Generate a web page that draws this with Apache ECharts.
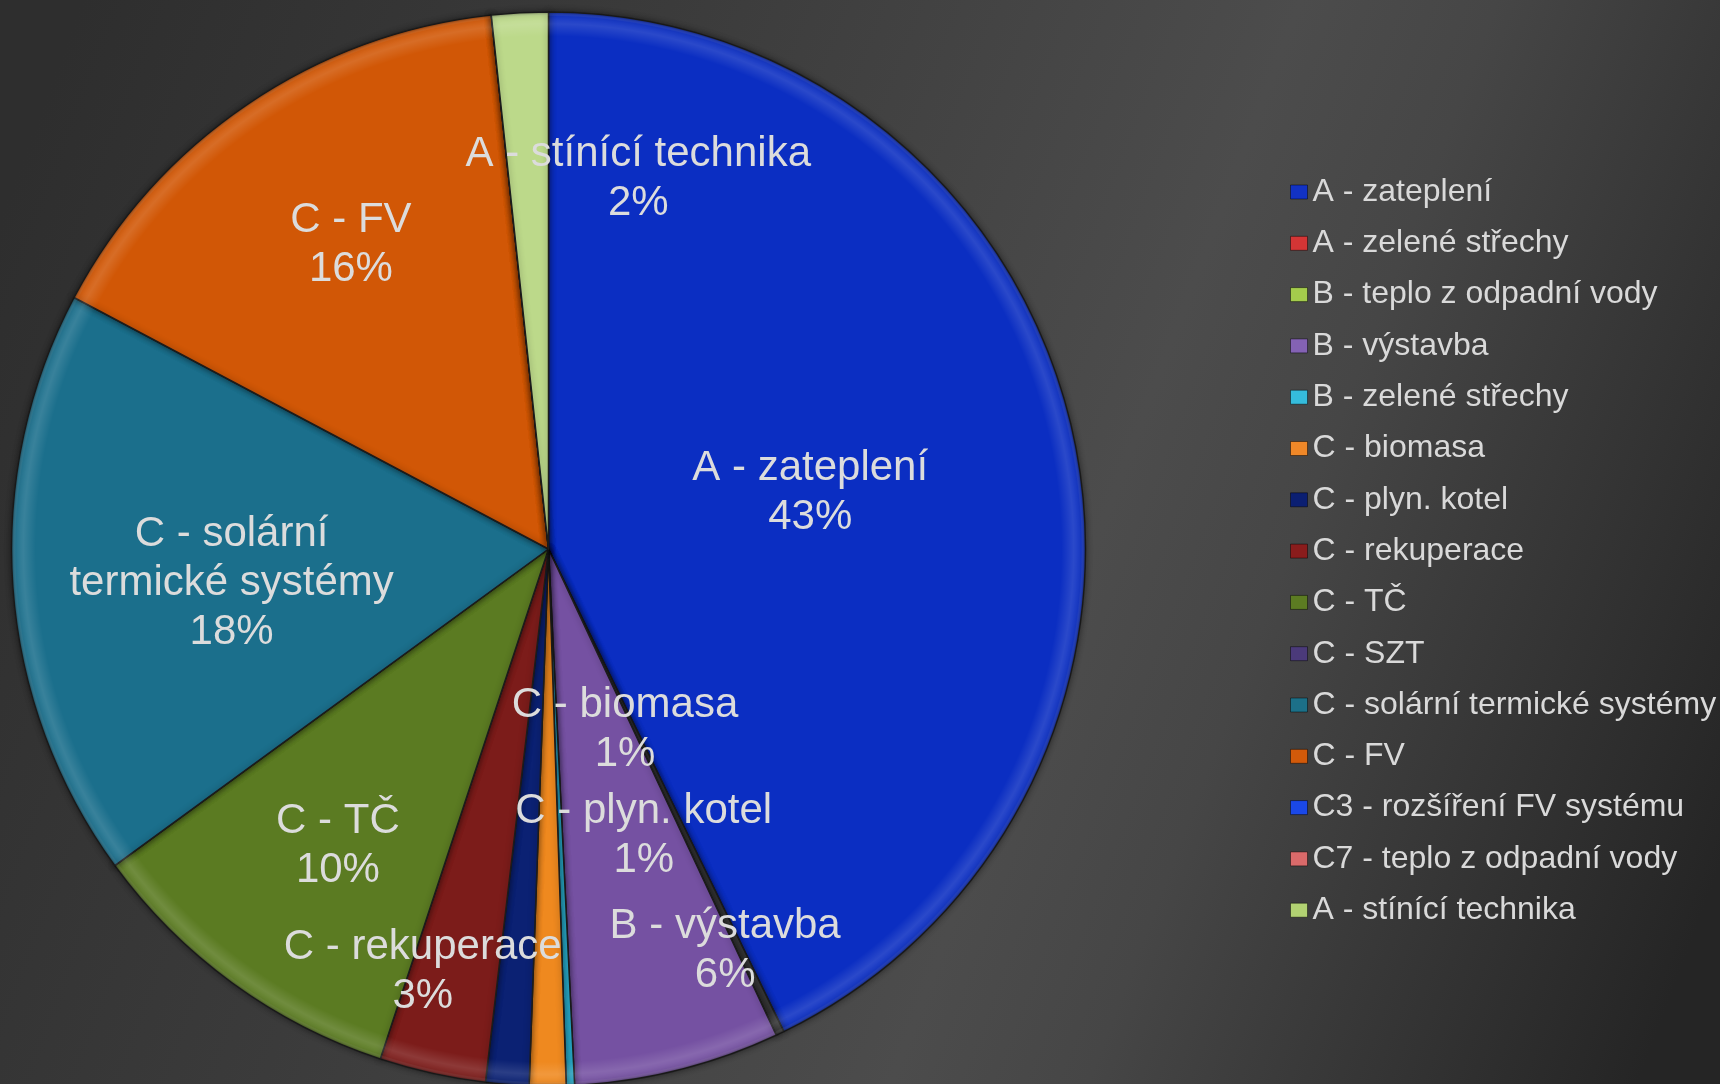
<!DOCTYPE html>
<html>
<head>
<meta charset="utf-8">
<script src="https://cdn.jsdelivr.net/npm/echarts@6/dist/echarts.min.js"></script>
<style>
html,body{margin:0;padding:0;background:#3a3a3a;overflow:hidden;}
#c{width:1720px;height:1084px;}
</style>
</head>
<body>
<div id="c"></div>
<script>
// ---- data ----
const categories = [
  'A - zateplení',
  'A - zelené střechy',
  'B - teplo z odpadní vody',
  'B - výstavba',
  'B - zelené střechy',
  'C - biomasa',
  'C - plyn. kotel',
  'C - rekuperace',
  'C - TČ',
  'C - SZT',
  'C - solární termické systémy',
  'C - FV',
  'C3 - rozšíření FV systému',
  'C7 - teplo z odpadní vody',
  'A - stínící technika'
];
const values = [42.8, 0.25, 0, 6.2, 0.25, 1.1, 1.3, 3.2, 9.9, 0, 17.8, 15.55, 0, 0, 1.7];

// label text line breaks (as in the original)
const labelBreaks = {
  'C - solární termické systémy': 'C - solární\ntermické systémy'
};

// ---- styles ----
const sliceColors = [
  '#0b2ec2', '#3a3a3a', '#a4cc4c', '#7551a2', '#2ab2d2', '#ef891f', '#0b2173',
  '#7c1c1a', '#5b7b22', '#4a3878', '#1b6f8c', '#d15706', '#1a48e8', '#d86868', '#bcd98a'
];
const legendColors = [
  '#1232c4', '#d43535', '#a4cc4c', '#8462b4', '#35bcdc', '#f08828', '#0b1f72',
  '#8a1c1c', '#5c7c22', '#4b3a7a', '#1c7088', '#d25a0a', '#1a48e8', '#da6a6a', '#b2d272'
];
// label placement (angle clockwise from 12 o'clock in degrees, fraction of radius)
const labelPlacement = {
  'A - zateplení': [77.1, 0.50],
  'B - výstavba': [156.1, 0.812],
  'C - biomasa': [156.6, 0.359],
  'C - plyn. kotel': [161.4, 0.556],
  'C - rekuperace': [196.7, 0.815],
  'C - TČ': [215.7, 0.672],
  'C - solární termické systémy': [264.4, 0.593],
  'C - FV': [327.3, 0.681],
  'A - stínící technika': [13.5, 0.716]
};

const CX = 548.5, CY = 549, R = 537;
const LABEL_DY = 3.5;
const total = values.reduce((a, b) => a + b, 0);

const chart = echarts.init(document.getElementById('c'), null, {renderer: 'canvas'});

const seriesData = categories.map((name, i) => {
  const item = {
    name: name,
    value: values[i],
    itemStyle: {color: sliceColors[i]}
  };
  if (!labelPlacement[name]) item.label = {show: false};
  return item;
});

const bevelData = categories.map((name, i) => ({name: name, value: values[i]}));

const option = {
  backgroundColor: {
    type: 'linear', x: 0, y: 0.2, x2: 1, y2: 0.8,
    colorStops: [
      {offset: 0, color: '#2e2e2e'},
      {offset: 0.3, color: '#3b3b3b'},
      {offset: 0.62, color: '#4c4c4c'},
      {offset: 0.72, color: '#464646'},
      {offset: 1, color: '#252525'}
    ]
  },
  animation: false,
  legend: {
    orient: 'vertical',
    left: 1285,
    top: 169,
    itemWidth: 17,
    itemHeight: 14,
    itemGap: 15.3,
    itemTextGap: 7,
    icon: 'rect',
    selectedMode: false,
    textStyle: {
      color: '#d9d9d9',
      fontSize: 32,
      lineHeight: 36,
      fontFamily: 'Liberation Sans, Arial, sans-serif'
    },
    data: categories.map((name, i) => ({
      name: name,
      itemStyle: {color: legendColors[i], borderColor: 'rgba(0,0,0,0.45)', borderWidth: 1}
    }))
  },
  series: [{
    type: 'pie',
    center: [CX, CY],
    radius: [0, R],
    startAngle: 90,
    clockwise: true,
    avoidLabelOverlap: false,
    stillShowZeroSum: true,
    minShowLabelAngle: 0,
    z: 2,
    itemStyle: {
      borderColor: '#1c1c1c',
      borderWidth: 1.5,
      shadowBlur: 6,
      shadowColor: 'rgba(0,0,0,0.45)'
    },
    label: {show: false},
    labelLine: {show: false},
    emphasis: {disabled: true},
    data: seriesData
  }, {
    // bevel highlight along the rim + labels on top
    type: 'pie',
    center: [CX, CY],
    radius: [0, R],
    startAngle: 90,
    clockwise: true,
    avoidLabelOverlap: false,
    stillShowZeroSum: true,
    minShowLabelAngle: 0,
    silent: true,
    z: 3,
    itemStyle: {
      color: {
        type: 'radial', x: CX, y: CY, r: R, global: true,
        colorStops: [
          {offset: 0, color: 'rgba(255,255,255,0)'},
          {offset: 0.955, color: 'rgba(255,255,255,0)'},
          {offset: 0.978, color: 'rgba(255,255,255,0.13)'},
          {offset: 0.992, color: 'rgba(255,255,255,0.05)'},
          {offset: 1, color: 'rgba(0,0,0,0.35)'}
        ]
      },
      borderWidth: 0
    },
    label: {
      show: true,
      position: 'inside',
      color: '#dcdcdc',
      fontSize: 42,
      lineHeight: 49,
      fontFamily: 'Liberation Sans, Arial, sans-serif',
      align: 'center',
      formatter: function (p) {
        if (!labelPlacement[p.name]) return '';
        const txt = labelBreaks[p.name] || p.name;
        return txt + '\n' + Math.round(p.value / total * 100) + '%';
      }
    },
    labelLine: {show: false},
    labelLayout: function (params) {
      const name = categories[params.dataIndex];
      const pl = labelPlacement[name];
      if (!pl) return {};
      const a = pl[0] * Math.PI / 180;
      return {
        x: CX + Math.sin(a) * pl[1] * R,
        y: CY - Math.cos(a) * pl[1] * R + LABEL_DY,
        align: 'center',
        verticalAlign: 'middle'
      };
    },
    emphasis: {disabled: true},
    data: bevelData
  }]
};

chart.setOption(option);
</script>
</body>
</html>
